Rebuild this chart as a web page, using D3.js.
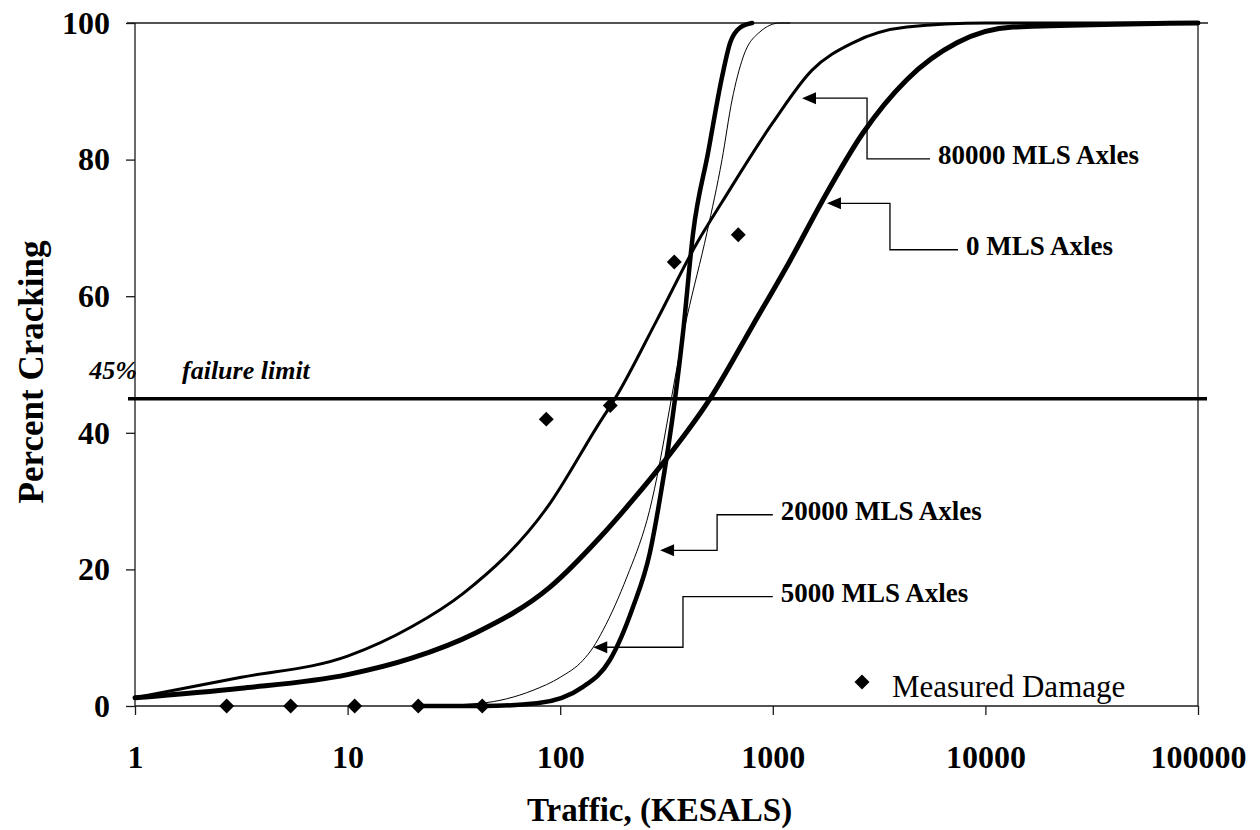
<!DOCTYPE html>
<html>
<head>
<meta charset="utf-8">
<script src="https://cdn.jsdelivr.net/npm/d3@7"></script>
<style>
body { margin: 0; background: #fff; }
text { font-family: "Liberation Serif", "Times New Roman", serif; fill: #000; }
</style>
</head>
<body>
<svg id="chart" width="1260" height="830"></svg>
<script>
//
// Data
//
var xTicks = [1, 10, 100, 1000, 10000, 100000];
var yTicks = [0, 20, 40, 60, 80, 100];

// 0 MLS Axles
var zeroX = [1, 3.16, 10, 20, 40, 89.5, 154, 220, 305, 507, 807, 1205, 1720, 2655, 4270, 7350, 13500, 100000];
var zeroY = [1.2, 2.6, 4.6, 7.0, 10.7, 17.4, 24.7, 30.2, 35.6, 45, 55.8, 65.2, 74.1, 83.9, 91.7, 97.1, 99.4, 100];
// 80000 MLS Axles
var k80X = [1, 3.16, 10, 20, 35, 87, 154, 181, 285, 440, 583, 1000, 1530, 2380, 4270, 10000, 100000];
var k80Y = [1.2, 4.2, 7.3, 11.6, 16.5, 29.1, 41.6, 45, 56.5, 67.8, 74, 85.4, 93.1, 97.1, 99.4, 100, 100];
// 20000 MLS Axles
var k20X = [21.5, 43, 77.8, 128, 171, 220, 264, 294, 347, 378, 422, 496, 577, 630, 700, 800];
var k20Y = [0, 0, 0.4, 2.8, 6.7, 14.5, 22.4, 30.2, 45, 54.6, 69.3, 81, 92.1, 97.1, 99.3, 100];
// 5000 MLS Axles
var k5X = [21.5, 42, 74.5, 100, 128, 143, 159, 206, 256, 395, 490, 577, 643, 725, 870, 1080, 1200];
var k5Y = [0, 0.4, 2.3, 4.2, 6.7, 8.6, 11.1, 18.9, 27.2, 57, 69.3, 80, 88.7, 95, 98.7, 100, 100];

// Measured damage
var measX = [2.7, 5.4, 10.8, 21.5, 43, 86, 172, 344, 688];
var measY = [0, 0, 0, 0, 0, 42, 44, 65, 69];

var failureLimit = 45;

// call-out labels, in data units
var labelNames = ["80000 MLS Axles", "0 MLS Axles", "20000 MLS Axles", "5000 MLS Axles"];
var tipX = [1372, 1798, 295, 143];
var tipY = [89.0, 73.6, 22.8, 8.6];
var elbowX = [2775, 3557, 547, 378];
var labelY = [80.1, 66.8, 28.0, 16.0];
var labelX = [5490, 7430, 1000, 1000];

//
// Scales
//
var svg = d3.select("#chart");
var x = d3.scaleLog().domain([1, 100000]).range([135, 1198]);
var y = d3.scaleLinear().domain([0, 100]).range([706, 23]);

function pairs(xa, ya) { return xa.map(function(v, i) { return [v, ya[i]]; }); }

//
// Frame and axes
//
var frame = "#1a1a1a";
svg.append("line").attr("x1", x(1) - 8).attr("x2", x(100000) + 10)
	.attr("y1", y(100)).attr("y2", y(100)).attr("stroke", frame).attr("stroke-width", 1.3);
svg.append("line").attr("x1", x(1)).attr("x2", x(100000))
	.attr("y1", y(0)).attr("y2", y(0)).attr("stroke", frame).attr("stroke-width", 1.3);
svg.append("line").attr("x1", x(1)).attr("x2", x(1))
	.attr("y1", y(100)).attr("y2", y(0)).attr("stroke", frame).attr("stroke-width", 1.3);
svg.append("line").attr("x1", x(100000)).attr("x2", x(100000))
	.attr("y1", y(100)).attr("y2", y(0)).attr("stroke", frame).attr("stroke-width", 1.3);

var xAxis = svg.append("g").attr("transform", "translate(0," + y(0) + ")")
	.call(d3.axisBottom(x).tickValues(xTicks).tickFormat(d3.format("d")).tickSize(9).tickPadding(30));
var yAxis = svg.append("g").attr("transform", "translate(" + x(1) + ",0)")
	.call(d3.axisLeft(y).tickValues(yTicks).tickSize(9).tickPadding(16));
[xAxis, yAxis].forEach(function(g) {
	g.select(".domain").remove();
	g.selectAll(".tick line").attr("stroke", frame).attr("stroke-width", 1.3);
	g.selectAll(".tick text").attr("font-family", "Liberation Serif, Times New Roman, serif")
		.attr("font-size", 32).attr("font-weight", "bold").attr("fill", "#000");
});

svg.append("text").attr("x", 527).attr("y", 821)
	.attr("font-size", 33).attr("font-weight", "bold").text("Traffic, (KESALS)");
svg.append("text").attr("transform", "translate(43,372) rotate(-90)")
	.attr("text-anchor", "middle").attr("font-size", 35).attr("font-weight", "bold")
	.text("Percent Cracking");

//
// Failure limit
//
svg.append("line").attr("x1", x(1) - 7).attr("x2", x(100000) + 9)
	.attr("y1", y(failureLimit)).attr("y2", y(failureLimit))
	.attr("stroke", "#000").attr("stroke-width", 3.5);
svg.append("text").attr("x", x(1) + 2).attr("y", y(failureLimit) - 20)
	.attr("text-anchor", "end").attr("font-size", 26).attr("font-weight", "bold")
	.attr("font-style", "italic").text(failureLimit + "%");
svg.append("text").attr("x", 182).attr("y", y(failureLimit) - 20)
	.attr("font-size", 26).attr("font-weight", "bold").attr("font-style", "italic")
	.text("failure limit");

//
// Curves
//
var line = d3.line().x(function(d) { return x(d[0]); }).y(function(d) { return y(d[1]); })
	.curve(d3.curveMonotoneX);
var curves = [
	{pts: pairs(k80X, k80Y), w: 3},
	{pts: pairs(zeroX, zeroY), w: 5},
	{pts: pairs(k5X, k5Y), w: 1},
	{pts: pairs(k20X, k20Y), w: 4.5}
];
curves.forEach(function(c) {
	svg.append("path").attr("d", line(c.pts)).attr("fill", "none")
		.attr("stroke", "#000").attr("stroke-width", c.w)
		.attr("stroke-linecap", "round").attr("stroke-linejoin", "round");
});

//
// Measured damage
//
var diamond = d3.symbol().type(d3.symbolSquare).size(112);
svg.selectAll("path.meas").data(pairs(measX, measY)).enter().append("path")
	.attr("class", "meas").attr("d", diamond).attr("fill", "#000")
	.attr("transform", function(d) { return "translate(" + x(d[0]) + "," + y(d[1]) + ") rotate(45)"; });

// legend
var lgX = 862, lgY = 682;
svg.append("path").attr("d", diamond).attr("fill", "#000")
	.attr("transform", "translate(" + lgX + "," + lgY + ") rotate(45)");
svg.append("text").attr("x", lgX + 30).attr("y", lgY + 15)
	.attr("font-size", 31).text("Measured Damage");

//
// Call-outs
//
labelNames.forEach(function(name, i) {
	var tx = x(tipX[i]), ty = y(tipY[i]);
	var ex = x(elbowX[i]), ly = y(labelY[i]), lx = x(labelX[i]);
	svg.append("path").attr("d", "M" + (tx + 10) + "," + ty + " H" + ex + " V" + ly + " H" + lx)
		.attr("fill", "none").attr("stroke", "#000").attr("stroke-width", 1.3);
	svg.append("path").attr("d", "M" + tx + "," + ty + " L" + (tx + 14) + "," + (ty - 6) +
		" L" + (tx + 14) + "," + (ty + 6) + " Z").attr("fill", "#000");
	svg.append("text").attr("x", lx + 8).attr("y", ly + 5)
		.attr("font-size", 27).attr("font-weight", "bold").text(name);
});
</script>
</body>
</html>
